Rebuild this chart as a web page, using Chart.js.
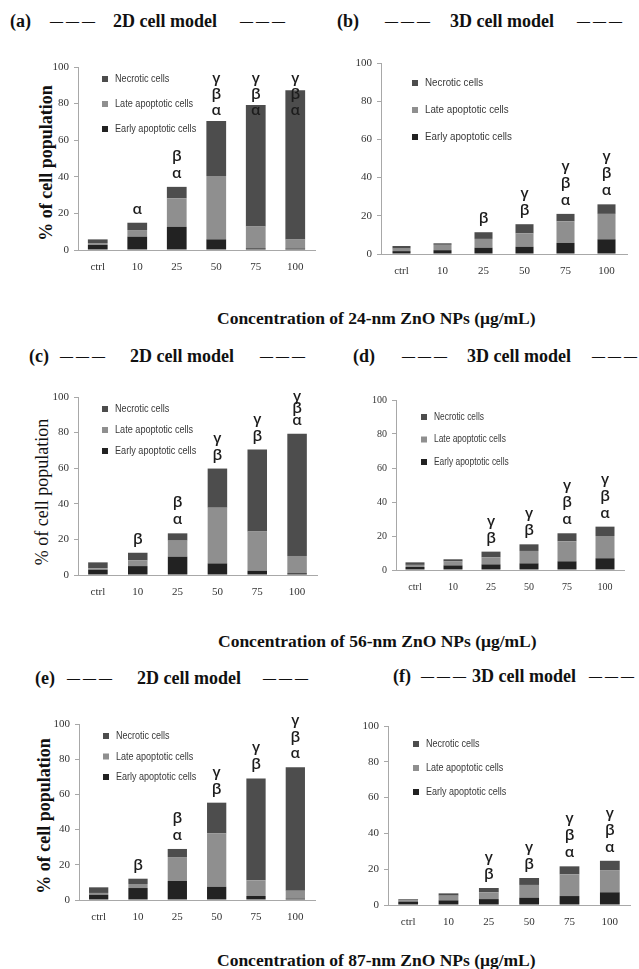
<!DOCTYPE html>
<html>
<head>
<meta charset="utf-8">
<script src="https://cdn.jsdelivr.net/npm/chart.js@4.4.1/dist/chart.umd.min.js"></script>
<style>
  body { margin: 0; background: #fff; width: 639px; height: 969px; position: relative; overflow: hidden;
         font-family: "Liberation Serif", "Times New Roman", serif; color: #111; }
  .t { position: absolute; font-weight: bold; font-size: 18px; line-height: 20px; white-space: nowrap; }
  .d { position: absolute; font-weight: bold; font-size: 13px; letter-spacing: 3px; line-height: 20px; white-space: nowrap; }
  .cap { position: absolute; font-weight: bold; font-size: 17.5px; line-height: 20px; white-space: nowrap; }
  .ytitle { position: absolute; font-weight: bold; font-size: 18px; line-height: 20px; white-space: nowrap;
            transform: translate(-50%, -50%) rotate(-90deg); }
  canvas { position: absolute; }
</style>
</head>
<body>

<div class="t" style="left:10px;top:11px">(a)</div>
<div class="d" style="left:50px;top:11px">———</div>
<div class="t" style="left:113px;top:11px">2D cell model</div>
<div class="d" style="left:240px;top:11px">———</div>

<div class="t" style="left:337px;top:11px">(b)</div>
<div class="d" style="left:385px;top:11px">———</div>
<div class="t" style="left:450px;top:11px">3D cell model</div>
<div class="d" style="left:577px;top:11px">———</div>

<div class="t" style="left:29px;top:346px">(c)</div>
<div class="d" style="left:60px;top:346px">———</div>
<div class="t" style="left:130px;top:346px">2D cell model</div>
<div class="d" style="left:260px;top:346px">———</div>

<div class="t" style="left:353px;top:346px">(d)</div>
<div class="d" style="left:402px;top:346px">———</div>
<div class="t" style="left:467px;top:346px">3D cell model</div>
<div class="d" style="left:592px;top:346px">———</div>

<div class="t" style="left:35px;top:668px">(e)</div>
<div class="d" style="left:67px;top:668px">———</div>
<div class="t" style="left:137px;top:668px">2D cell model</div>
<div class="d" style="left:263px;top:668px">———</div>

<div class="t" style="left:393px;top:666px">(f)</div>
<div class="d" style="left:421px;top:666px">———</div>
<div class="t" style="left:472px;top:666px">3D cell model</div>
<div class="d" style="left:589px;top:666px">———</div>

<div class="ytitle" style="left:46px;top:163px">% of cell population</div>
<div class="ytitle" style="left:42px;top:492px;font-weight:normal">% of cell population</div>
<div class="ytitle" style="left:44px;top:816px">% of cell population</div>

<div class="cap" style="left:217px;top:308px">Concentration of 24-nm ZnO NPs (μg/mL)</div>
<div class="cap" style="left:218px;top:631px">Concentration of 56-nm ZnO NPs (μg/mL)</div>
<div class="cap" style="left:217px;top:950px">Concentration of 87-nm ZnO NPs (μg/mL)</div>

<script>
const concLabels = ['ctrl', '10', '25', '50', '75', '100'];
const seriesNames = ['Early apoptotic cells', 'Late apoptotic cells', 'Necrotic cells'];
const seriesColors = ['#222222', '#8f8f8f', '#4d4d4d'];

// 24-nm, 2D
const earlyA = [2.8, 7.3, 12.7, 5.8, 0.9, 0.8];
const lateA = [1.0, 3.6, 15.5, 34.7, 12.0, 5.0];
const necroticA = [2.0, 4.0, 6.3, 30.0, 66.4, 81.5];
const sigA = [[], ['α'], ['β', 'α'], ['γ', 'β', 'α'], ['γ', 'β', 'α'], ['γ', 'β', 'α']];

// 24-nm, 3D
const earlyB = [1.5, 2.0, 3.3, 3.8, 5.8, 7.7];
const lateB = [1.3, 2.8, 4.6, 7.0, 11.3, 13.3];
const necroticB = [1.4, 0.8, 3.5, 4.8, 3.9, 5.0];
const sigB = [[], [], ['β'], ['γ', 'β'], ['γ', 'β', 'α'], ['γ', 'β', 'α']];

// 56-nm, 2D
const earlyC = [3.0, 5.0, 10.3, 6.5, 2.4, 1.0];
const lateC = [0.8, 3.2, 9.0, 31.3, 22.1, 9.7];
const necroticC = [3.3, 4.3, 4.1, 22.0, 46.0, 68.7];
const sigC = [[], ['β'], ['β', 'α'], ['γ', 'β'], ['γ', 'β'], ['γ', 'β', 'α']];

// 56-nm, 3D
const earlyD = [1.8, 2.7, 3.3, 3.9, 5.1, 6.9];
const lateD = [1.2, 2.3, 4.2, 7.3, 11.8, 13.1];
const necroticD = [1.5, 1.3, 3.3, 3.9, 4.7, 5.5];
const sigD = [[], [], ['γ', 'β'], ['γ', 'β'], ['γ', 'β', 'α'], ['γ', 'β', 'α']];

// 87-nm, 2D
const earlyE = [3.0, 6.8, 10.8, 7.6, 2.3, 0.8];
const lateE = [1.0, 2.3, 13.6, 30.3, 8.9, 4.5];
const necroticE = [3.2, 3.0, 4.6, 17.4, 57.9, 70.1];
const sigE = [[], ['β'], ['β', 'α'], ['γ', 'β'], ['γ', 'β'], ['γ', 'β', 'α']];

// 87-nm, 3D
const earlyF = [1.9, 2.6, 3.3, 4.1, 5.0, 7.1];
const lateF = [0.6, 2.6, 3.8, 7.1, 12.1, 12.4];
const necroticF = [0.7, 1.3, 2.4, 3.9, 4.5, 5.2];
const sigF = [[], [], ['γ', 'β'], ['γ', 'β'], ['γ', 'β', 'α'], ['γ', 'β', 'α']];

// legend drawn inside the plot, necrotic on top
const boxLegend = {
  id: 'boxLegend',
  afterDraw(chart, args, o) {
    const { ctx, chartArea } = chart;
    const sets = chart.data.datasets.slice().reverse();
    ctx.save();
    ctx.textBaseline = 'middle';
    ctx.font = o.size + 'px "Liberation Sans", Arial, sans-serif';
    sets.forEach((ds, i) => {
      const x = chartArea.left + o.dx;
      const y = chartArea.top + o.dy + i * o.gap;
      ctx.fillStyle = ds.backgroundColor;
      ctx.fillRect(x, y - 3, 6, 6);
      ctx.fillStyle = '#383838';
      ctx.save();
      ctx.translate(x + 13, y);
      ctx.scale(o.sx, 1);
      ctx.fillText(ds.label, 0, 0);
      ctx.restore();
    });
    ctx.restore();
  }
};

// significance letters stacked above each bar
const sigLabels = {
  id: 'sigLabels',
  afterDatasetsDraw(chart, args, o) {
    const { ctx, chartArea } = chart;
    const meta = chart.getDatasetMeta(chart.data.datasets.length - 1);
    const lim = chartArea.top + o.topPad;
    ctx.save();
    ctx.font = '600 15px "Open Sans", "Noto Sans", sans-serif';
    ctx.textAlign = 'center';
    ctx.textBaseline = 'alphabetic';
    ctx.fillStyle = '#1c1c1c';
    o.marks.forEach((lines, i) => {
      if (!lines.length) return;
      const bar = meta.data[i];
      const n = lines.length;
      let base = bar.y - 9;
      let lh = 17;
      if (n > 1 && base - (n - 1) * lh < lim) lh = Math.max(o.minLH, (base - lim) / (n - 1));
      if (base - (n - 1) * lh < lim) base = lim + (n - 1) * lh;
      lines.forEach((s, k) => ctx.fillText(s, bar.x, base - (n - 1 - k) * lh));
    });
    ctx.restore();
  }
};

function panel(box, early, late, necrotic, marks, leg, sig) {
  const cv = document.createElement('canvas');
  cv.width = box.w;
  cv.height = box.h;
  cv.style.left = box.x + 'px';
  cv.style.top = box.y + 'px';
  document.body.appendChild(cv);

  const tickFont = { family: '"Liberation Serif", serif', size: box.fs || 11 };
  new Chart(cv, {
    type: 'bar',
    data: {
      labels: concLabels,
      datasets: [early, late, necrotic].map((d, i) => ({
        label: seriesNames[i],
        data: d,
        backgroundColor: seriesColors[i],
        borderWidth: 0,
        barPercentage: box.bp,
        categoryPercentage: 1
      }))
    },
    options: {
      responsive: false,
      animation: false,
      layout: { padding: { top: box.pt, right: box.pr, left: 0, bottom: 0 } },
      plugins: {
        legend: { display: false },
        tooltip: { enabled: false },
        boxLegend: leg,
        sigLabels: Object.assign({ marks: marks }, sig)
      },
      scales: {
        x: {
          stacked: true,
          grid: { drawOnChartArea: false, drawTicks: false },
          border: { color: '#a8a8a8' },
          ticks: { color: '#333', font: tickFont, padding: 11 },
          afterFit: s => { s.height = box.xh; }
        },
        y: {
          stacked: true,
          min: 0,
          max: 100,
          ticks: { stepSize: 20, color: '#333', font: tickFont, padding: 5 },
          grid: { drawOnChartArea: false, tickLength: 4, color: '#a8a8a8' },
          border: { color: '#a8a8a8' },
          afterFit: s => { s.width = box.yw; }
        }
      }
    },
    plugins: [boxLegend, sigLabels]
  });
}

panel({ x: 40, y: 55, w: 280, h: 225, yw: 38, pt: 12, pr: 5, xh: 30, bp: 0.5 },
  earlyA, lateA, necroticA, sigA,
  { dx: 24, dy: 12, gap: 25, size: 11, sx: 0.83 }, { topPad: 16, minLH: 16 });
panel({ x: 340, y: 50, w: 295, h: 230, yw: 41, pt: 13, pr: 8, xh: 26, bp: 0.44 },
  earlyB, lateB, necroticB, sigB,
  { dx: 31, dy: 20, gap: 27, size: 11.5, sx: 0.85 }, { topPad: 0, minLH: 12 });
panel({ x: 40, y: 385, w: 282, h: 220, yw: 38, pt: 12, pr: 5, xh: 30, bp: 0.49 },
  earlyC, lateC, necroticC, sigC,
  { dx: 24, dy: 12, gap: 21, size: 11, sx: 0.83 }, { topPad: 4, minLH: 9 });
panel({ x: 356, y: 388, w: 276, h: 212, yw: 40, pt: 12, pr: 8, xh: 30, bp: 0.5, fs: 10 },
  earlyD, lateD, necroticD, sigD,
  { dx: 25, dy: 17, gap: 22.5, size: 10.5, sx: 0.8 }, { topPad: 0, minLH: 12 });
panel({ x: 40, y: 710, w: 280, h: 220, yw: 39, pt: 14, pr: 5, xh: 30, bp: 0.49 },
  earlyE, lateE, necroticE, sigE,
  { dx: 24, dy: 12, gap: 20.5, size: 11, sx: 0.82 }, { topPad: 1, minLH: 9 });
panel({ x: 346, y: 714, w: 290, h: 221, yw: 42, pt: 12, pr: 6, xh: 30, bp: 0.49 },
  earlyF, lateF, necroticF, sigF,
  { dx: 25, dy: 18, gap: 24, size: 11, sx: 0.82 }, { topPad: 0, minLH: 12 });
</script>
</body>
</html>
